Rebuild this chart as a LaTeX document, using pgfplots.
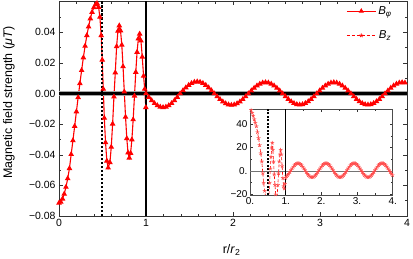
\documentclass[border=0pt]{standalone}
\usepackage{fontspec}
\setmainfont{Liberation Sans}
\usepackage{pgfplots}
\pgfplotsset{compat=1.18}
\begin{document}
\begin{tikzpicture}
\useasboundingbox (-59bp,-43bp) rectangle (354bp,216bp);
\begin{axis}[
 name=main,
 at={(0,0)}, anchor=south west,
 scale only axis, width=348bp, height=215bp,
 xmin=0, xmax=4, ymin=-0.08, ymax=0.0605,
 scaled y ticks=false,
 xtick={0,1,2,3,4}, xticklabels={0,1,2,3,4},
 minor x tick num=4,
 ytick={-0.08,-0.06,-0.04,-0.02,0,0.02,0.04},
 yticklabels={−0.08,−0.06,−0.04,−0.02,0.00,0.02,0.04},
 minor ytick={-0.07,-0.05,-0.03,-0.01,0.01,0.03,0.05},
 tick align=inside, major tick length=4bp, minor tick length=2.5bp,
 tick style={black!80, line width=0.5bp},
 axis line style={black!80, line width=0.6bp},
 ticklabel style={font=\fontsize{10.5}{12}\selectfont},
 label style={font=\fontsize{12.5}{14}\selectfont},
 xlabel={r/\textit{r}\textsubscript{2}},
 ylabel={Magnetic field strength (\textit{μT})},
 xlabel style={at={(axis description cs:0.496,-0.158)}, anchor=center},
 ylabel style={at={(axis description cs:-0.144,0.528)}, anchor=center},
 legend image code/.code={\draw[mark repeat=2,mark phase=2,#1] plot coordinates {(0bp,0bp) (14.5bp,0bp) (29bp,0bp)};},
 legend style={at={(axis description cs:0.825,0.985)}, anchor=north west, draw=none, fill=none, inner sep=0pt, row sep=11bp, font=\fontsize{11.5}{13}\selectfont},
]
\addlegendimage{red, line width=1bp, mark=triangle*, mark size=2bp}
\addlegendentry{\textit{B}\textsubscript{\textit{φ}}}
\addlegendimage{red, line width=0.7bp, dash pattern=on 3bp off 2bp, mark=star, mark size=2bp, mark options={solid}}
\addlegendentry{\textit{B}\textsubscript{\textit{z}}}

\addplot[red, line width=1.1bp, mark=triangle*, mark size=2.2bp, forget plot] table {
0.000 -0.0715
0.020 -0.0708
0.040 -0.0688
0.060 -0.0656
0.080 -0.0611
0.100 -0.0555
0.120 -0.0489
0.140 -0.0397
0.160 -0.0307
0.180 -0.0213
0.200 -0.0118
0.220 -0.0025
0.240 0.0066
0.260 0.0152
0.280 0.0235
0.300 0.0311
0.320 0.0380
0.340 0.0437
0.360 0.0490
0.380 0.0532
0.400 0.0562
0.420 0.0581
0.437 0.0590
0.455 0.0565
0.470 0.0500
0.485 0.0380
0.497 0.0220
0.509 0.0030
0.521 -0.0160
0.535 -0.0320
0.550 -0.0440
0.565 -0.0485
0.5854 -0.0450
0.6008 -0.0349
0.6161 -0.0198
0.6315 -0.0021
0.6469 0.0137
0.6623 0.0308
0.6776 0.0409
0.6930 0.0444
0.7074 0.0411
0.7218 0.0318
0.7361 0.0177
0.7505 0.0012
0.7649 -0.0153
0.7793 -0.0293
0.7936 -0.0387
0.8080 -0.0420
0.8229 -0.0389
0.8378 -0.0301
0.8526 -0.0170
0.8675 -0.0015
0.8824 0.0140
0.8973 0.0271
0.9121 0.0359
0.9270 0.0390
0.9420 0.0345
0.9570 0.0240
0.9720 0.0115
0.9850 0.0030
0.9980 -0.0090
1.0000 0
1.0327 -0.00233
1.0654 -0.0045
1.0981 -0.00636
1.1308 -0.00779
1.1636 -0.00869
1.1963 -0.009
1.2290 -0.00869
1.2617 -0.00779
1.2944 -0.00636
1.3271 -0.0045
1.3598 -0.00233
1.3925 0
1.4252 0.00202
1.4579 0.0039
1.4907 0.00552
1.5234 0.00675
1.5561 0.00753
1.5888 0.0078
1.6215 0.00753
1.6542 0.00675
1.6869 0.00552
1.7196 0.0039
1.7523 0.00202
1.7850 0
1.8178 -0.00194
1.8505 -0.00375
1.8832 -0.0053
1.9159 -0.0065
1.9486 -0.00724
1.9813 -0.0075
2.0140 -0.00724
2.0467 -0.0065
2.0794 -0.0053
2.1121 -0.00375
2.1449 -0.00194
2.1776 0
2.2103 0.00189
2.2430 0.00365
2.2757 0.00516
2.3084 0.00632
2.3411 0.00705
2.3738 0.0073
2.4065 0.00705
2.4392 0.00632
2.4720 0.00516
2.5047 0.00365
2.5374 0.00189
2.5701 0
2.6028 -0.00189
2.6355 -0.00365
2.6682 -0.00516
2.7009 -0.00632
2.7336 -0.00705
2.7663 -0.0073
2.7991 -0.00705
2.8318 -0.00632
2.8645 -0.00516
2.8972 -0.00365
2.9299 -0.00189
2.9626 0
2.9953 0.00189
3.0280 0.00365
3.0607 0.00516
3.0934 0.00632
3.1262 0.00705
3.1589 0.0073
3.1916 0.00705
3.2243 0.00632
3.2570 0.00516
3.2897 0.00365
3.3224 0.00189
3.3551 0
3.3878 -0.00189
3.4205 -0.00365
3.4533 -0.00516
3.4860 -0.00632
3.5187 -0.00705
3.5514 -0.0073
3.5841 -0.00705
3.6168 -0.00632
3.6495 -0.00516
3.6822 -0.00365
3.7149 -0.00189
3.7476 0
3.7804 0.00189
3.8131 0.00365
3.8458 0.00516
3.8785 0.00632
3.9112 0.00705
3.9439 0.0073
3.9766 0.00705
4.0093 0.00632
};
\addplot[black!35, line width=4.5bp, forget plot] coordinates {(0,0) (4,0)};
\addplot[black, line width=2.2bp, forget plot] coordinates {(0,0) (4,0)};
\addplot[black, line width=2bp, dash pattern=on 2.5bp off 1.5bp, forget plot] coordinates {(0.5,-0.08) (0.5,0.0605)};
\addplot[black, line width=1.5bp, forget plot] coordinates {(1,-0.08) (1,0.0605)};
\end{axis}

\begin{axis}[
 at={(191bp,21bp)}, anchor=south west,
 scale only axis, width=142.7bp, height=85.7bp,
 xmin=0, xmax=4, ymin=-20.5, ymax=52.5,
 axis background/.style={fill=white},
 xtick={0,1,2,3,4}, xticklabels={0.,1.,2.,3.,4.},
 minor x tick num=1,
 ytick={-20,0,20,40}, yticklabels={−20,0.,20,40},
 minor y tick num=1,
 tick align=inside, major tick length=3bp, minor tick length=1.8bp,
 tick style={black!80, line width=0.4bp},
 axis line style={black!70, line width=0.5bp},
 ticklabel style={font=\fontsize{10}{11}\selectfont},
 xticklabel style={yshift=1bp},
 yticklabel style={xshift=1bp},
]
\addplot[black!55, line width=0.8bp] coordinates {(0,0) (4,0)};
\addplot[red, line width=0.6bp, dash pattern=on 3bp off 2bp, mark=star, mark size=2bp, mark options={solid, red!70, line width=0.6bp}] table {
0.00 56
0.03 52
0.06 49.5
0.09 47
0.12 44
0.15 41
0.18 38
0.21 33
0.24 28
0.27 22
0.30 15
0.33 8
0.36 -2
0.38 -10
0.41 -17
0.44 -22
0.47 -28
0.50 -30
0.53 -22
0.55 -10
0.57 2
0.59 12
0.61 20
0.625 24
0.64 18
0.66 8
0.68 -3
0.70 -12
0.72 -20
0.74 -24
0.76 -22
0.78 -12
0.80 -2
0.82 8
0.84 14
0.86 18
0.88 14
0.90 4
0.92 -6
0.94 -13
0.96 -15
0.98 -11
1.00 -6
1.0190 -4.6
1.0517 -3.64
1.0844 -2.4
1.1171 -0.95
1.1498 0.6
1.1826 2.15
1.2153 3.6
1.2480 4.84
1.2807 5.8
1.3134 6.4
1.3461 6.6
1.3788 6.4
1.4115 5.8
1.4442 4.84
1.4769 3.6
1.5097 2.15
1.5424 0.6
1.5751 -0.95
1.6078 -2.4
1.6405 -3.64
1.6732 -4.6
1.7059 -5.2
1.7386 -5.4
1.7713 -5.2
1.8040 -4.6
1.8368 -3.64
1.8695 -2.4
1.9022 -0.95
1.9349 0.6
1.9676 2.15
2.0003 3.6
2.0330 4.84
2.0657 5.8
2.0984 6.4
2.1311 6.6
2.1639 6.4
2.1966 5.8
2.2293 4.84
2.2620 3.6
2.2947 2.15
2.3274 0.6
2.3601 -0.95
2.3928 -2.4
2.4255 -3.64
2.4582 -4.6
2.4910 -5.2
2.5237 -5.4
2.5564 -5.2
2.5891 -4.6
2.6218 -3.64
2.6545 -2.4
2.6872 -0.95
2.7199 0.6
2.7526 2.15
2.7853 3.6
2.8181 4.84
2.8508 5.8
2.8835 6.4
2.9162 6.6
2.9489 6.4
2.9816 5.8
3.0143 4.84
3.0470 3.6
3.0797 2.15
3.1124 0.6
3.1452 -0.95
3.1779 -2.4
3.2106 -3.64
3.2433 -4.6
3.2760 -5.2
3.3087 -5.4
3.3414 -5.2
3.3741 -4.6
3.4068 -3.64
3.4395 -2.4
3.4723 -0.95
3.5050 0.6
3.5377 2.15
3.5704 3.6
3.6031 4.84
3.6358 5.8
3.6685 6.4
3.7012 6.6
3.7339 6.4
3.7666 5.8
3.7994 4.84
3.8321 3.6
3.8648 2.15
3.8975 0.6
3.9302 -0.95
3.9629 -2.4
3.9956 -3.64
};
\addplot[black, line width=1.4bp, dash pattern=on 2bp off 1.5bp] coordinates {(0.5,-20.5) (0.5,52.5)};
\addplot[black, line width=1.2bp] coordinates {(1,-20.5) (1,52.5)};
\end{axis}
\end{tikzpicture}
\end{document}
